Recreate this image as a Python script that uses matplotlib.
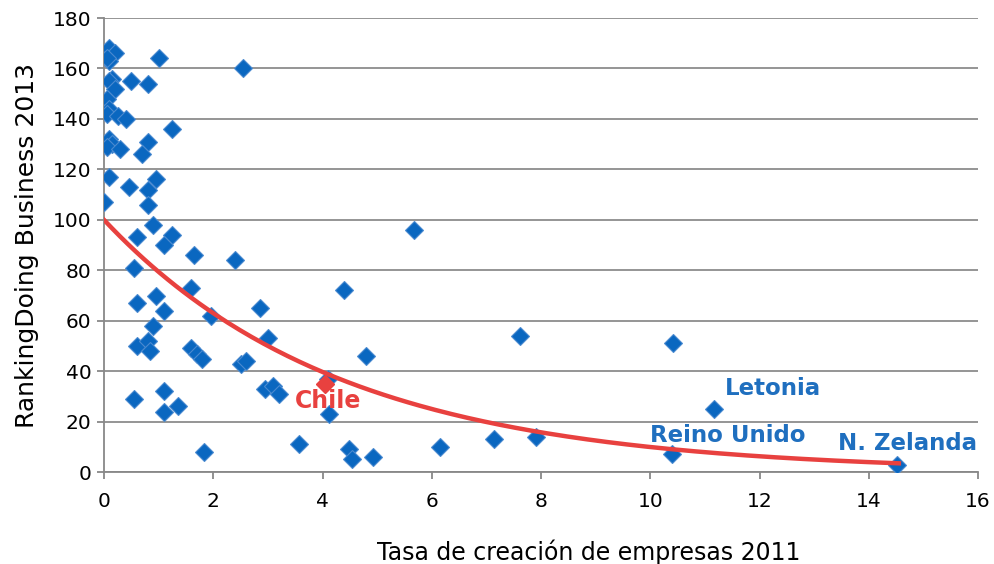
import numpy as np
import matplotlib
matplotlib.use("Agg")
import matplotlib.pyplot as plt

# Tasa de creación de empresas 2011 vs Ranking Doing Business 2013
tasa = [0.10, 0.20, 0.10, 0.05, 0.15, 0.10, 0.20, 0.05, 0.10, 0.05, 0.25, 0.40,
        0.10, 0.15, 0.05, 0.30, 0.10, 0.00,
        1.00, 0.50, 0.80, 2.55, 0.80, 1.25, 0.70, 0.95, 0.80, 0.45, 0.80, 0.90,
        1.25, 1.10, 0.60, 1.65, 0.55, 2.40, 1.60, 0.95, 0.60, 2.85, 1.10, 1.95,
        0.90, 3.00, 0.60, 0.80, 0.85, 1.60, 1.70, 1.80, 2.50, 2.60, 1.10, 0.55,
        1.35, 1.10, 2.95, 3.10, 3.20, 1.83, 3.57, 4.10, 4.12, 4.39, 4.80, 4.49,
        4.54, 4.92, 5.68, 6.15, 7.14, 7.62, 7.91, 10.42, 10.40, 11.17, 14.52]
ranking = [168, 166, 163, 164, 156, 155, 152, 148, 144, 142, 141, 140,
           132, 130, 129, 128, 117, 107,
           164, 155, 154, 160, 131, 136, 126, 116, 112, 113, 106, 98,
           94, 90, 93, 86, 81, 84, 73, 70, 67, 65, 64, 62,
           58, 53, 50, 52, 48, 49, 47, 45, 43, 44, 32, 29,
           26, 24, 33, 34, 31, 8, 11, 37, 23, 72, 46, 9,
           5, 6, 96, 10, 13, 54, 14, 51, 7, 25, 3]

chile_x, chile_y = 4.05, 35

# tendencia exponencial y = a * exp(-b x)
trend_a = 100
trend_b = 0.231

labels = ["Letonia", "Reino Unido", "N. Zelanda"]
label_x = [11.37, 10.0, 13.44]
label_y = [33, 14.3, 11.5]

blue = "#0A67C0"
red = "#E8413F"

fig = plt.figure(figsize=(9.95, 5.64), dpi=100)
ax = fig.add_axes([0.1045, 0.163, 0.8785, 0.805])

ax.plot(tasa, ranking, linestyle="none", marker="D", markersize=9.5,
        markerfacecolor=blue, markeredgecolor="#4A8AD0", markeredgewidth=0.8, zorder=3)
ax.plot([chile_x], [chile_y], linestyle="none", marker="D", markersize=9.5,
        markerfacecolor=red, markeredgecolor=red, zorder=4)

xs = np.linspace(0, 14.55, 200)
ax.plot(xs, trend_a * np.exp(-trend_b * xs), color=red, linewidth=3.2, zorder=5)

ax.text(3.5, 28.2, "Chile", color=red, fontsize=17, fontweight="bold",
        va="center", zorder=6)
for name, lx, ly in zip(labels, label_x, label_y):
    ax.text(lx, ly, name, color="#1F6FBF", fontsize=16.5, fontweight="bold",
            va="center", zorder=6)

ax.set_xlim(0, 16)
ax.set_ylim(0, 180)
ax.set_xticks(range(0, 17, 2))
ax.set_yticks(range(0, 181, 20))
ax.tick_params(labelsize=14.5, colors="#888888", labelcolor="black", length=5,
               width=1.3, direction="out")
ax.tick_params(axis="x", pad=9)
ax.tick_params(axis="y", pad=4)
ax.yaxis.grid(True, color="#8C8C8C", linewidth=1.3)
ax.set_axisbelow(True)
for side in ["top", "right"]:
    ax.spines[side].set_visible(False)
for side in ["left", "bottom"]:
    ax.spines[side].set_color("#888888")
    ax.spines[side].set_linewidth(1.3)

ax.set_xlabel("Tasa de creación de empresas 2011", fontsize=17)
ax.xaxis.set_label_coords(0.554, -0.148)
ax.set_ylabel("RankingDoing Business 2013", fontsize=18, labelpad=10)

fig.savefig("out.png", dpi=100)
